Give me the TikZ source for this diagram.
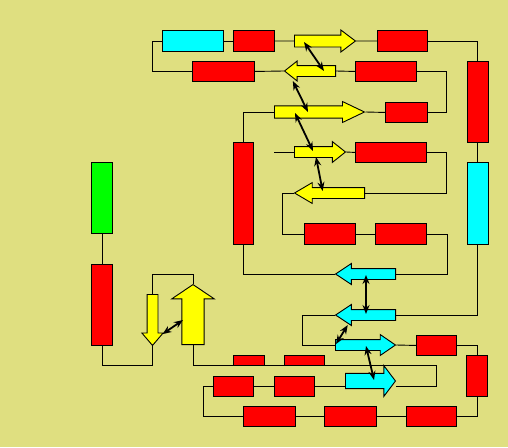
\documentclass[tikz,border=0pt]{standalone}
\usetikzlibrary{shapes.arrows,arrows.meta}
\definecolor{fondo}{RGB}{223,223,128}
\definecolor{rojo}{RGB}{255,0,0}
\definecolor{cian}{RGB}{0,255,255}
\definecolor{amarillo}{RGB}{255,255,0}
\definecolor{verde}{RGB}{0,255,0}
\begin{document}
\begin{tikzpicture}[x=1pt,y=-1pt,line width=0.9pt,
		caja/.style={rectangle, draw, inner sep=0pt, anchor=north west},
		flecha/.style={single arrow, draw, inner xsep=0pt, anchor=tail},
		doble/.style={{Stealth[length=9pt,width=7pt]}-{Stealth[length=9pt,width=7pt]}, line width=1.8pt}]
		
		% Fondo
		\fill[fondo] (0,0) rectangle (508,447);
		
		% Lazo de arriba
		\node[caja, fill=cian, minimum width=61, minimum height=21] (c1) at (162,30) {};
		\node[caja, fill=rojo, minimum width=41, minimum height=21] (r1) at (233,30) {};
		\node[caja, fill=rojo, minimum width=50, minimum height=21] (r2) at (377,30) {};
		\node[caja, fill=rojo, minimum width=62, minimum height=20] (r4) at (192,61) {};
		\node[caja, fill=rojo, minimum width=61, minimum height=20] (r5) at (355,61) {};
		\node[caja, fill=rojo, minimum width=42, minimum height=20] (r6) at (385,102) {};
		\node[caja, fill=rojo, minimum width=20, minimum height=102] (r7) at (233,142) {};
		\node[caja, fill=rojo, minimum width=71, minimum height=20] (r8) at (355,142) {};
		\node[caja, fill=rojo, minimum width=51, minimum height=21] (r9) at (304,223) {};
		\node[caja, fill=rojo, minimum width=51, minimum height=21] (r10) at (375,223) {};
		
		% Columna derecha
		\node[caja, fill=rojo, minimum width=21.5, minimum height=81] (r3) at (466.5,61) {};
		\node[caja, fill=cian, minimum width=21.5, minimum height=82] (c2) at (466.5,162) {};
		
		% Lazo de abajo
		\node[caja, fill=rojo, minimum width=40, minimum height=20] (r12) at (416,335) {};
		\node[caja, fill=rojo, minimum width=21, minimum height=41] (r13) at (466,355) {};
		\node[caja, fill=rojo, minimum width=50, minimum height=20] (r14) at (406,406) {};
		\node[caja, fill=rojo, minimum width=52, minimum height=20] (r15) at (324,406) {};
		\node[caja, fill=rojo, minimum width=52, minimum height=20] (r16) at (243,406) {};
		\node[caja, fill=rojo, minimum width=40, minimum height=20] (r17) at (213,376) {};
		\node[caja, fill=rojo, minimum width=40, minimum height=20] (r18) at (274,376) {};
		\node[caja, fill=rojo, minimum width=31, minimum height=10] (r19) at (233,355) {};
		\node[caja, fill=rojo, minimum width=40, minimum height=10] (r20) at (284,355) {};
		
		% Columna izquierda
		\node[caja, fill=verde, minimum width=21, minimum height=71] (g1) at (91,162) {};
		\node[caja, fill=rojo, minimum width=21, minimum height=81] (r11) at (91,264) {};
		
		% Flechas amarillas
		\node[flecha, fill=amarillo, minimum height=61, inner ysep=5.5, single arrow head extend=5, single arrow tip angle=74] (ya1) at (294,41) {};
		\node[flecha, fill=amarillo, minimum height=51, inner ysep=5, single arrow head extend=4.5, single arrow tip angle=77, shape border rotate=180] (ya2) at (336,71) {};
		\node[flecha, fill=amarillo, minimum height=90, inner ysep=5.7, single arrow head extend=4.3, single arrow tip angle=51] (ya3) at (274,112) {};
		\node[flecha, fill=amarillo, minimum height=51, inner ysep=5, single arrow head extend=5, single arrow tip angle=77] (ya4) at (294,152) {};
		\node[flecha, fill=amarillo, minimum height=70, inner ysep=5, single arrow head extend=5, single arrow tip angle=61, shape border rotate=180] (ya5) at (365,193) {};
		\node[flecha, fill=amarillo, minimum height=51, inner xsep=5, inner ysep=0pt, single arrow head extend=5.2, single arrow tip angle=81, shape border rotate=270] (yd) at (152.5,294) {};
		\node[flecha, fill=amarillo, minimum height=60, inner xsep=10.7, inner ysep=0pt, single arrow head extend=10, single arrow tip angle=112, shape border rotate=90] (yu) at (193,345) {};
		
		% Flechas cian
		\node[flecha, fill=cian, minimum height=60, inner ysep=5, single arrow head extend=5, single arrow tip angle=67, shape border rotate=180] (ca1) at (396,274) {};
		\node[flecha, fill=cian, minimum height=60, inner ysep=5, single arrow head extend=5, single arrow tip angle=67, shape border rotate=180] (ca2) at (396,315) {};
		\node[flecha, fill=cian, minimum height=60, inner ysep=5, single arrow head extend=5, single arrow tip angle=69] (ca3) at (335,345) {};
		\node[flecha, fill=cian, minimum height=50, inner ysep=7.2, single arrow head extend=7.8, single arrow tip angle=106] (ca4) at (345,381) {};
		
		\coordinate (e4) at (274,152);
		
		% Lineas de arriba
		\draw (c1.west) -- ++(-10,0) |- (r4.west);
		\draw (c1.east) -- (r1.west);
		\draw (r1.east) -- (ya1.tail);
		\draw (ya1.tip) -- (r2.west);
		\draw (r2.east) -| (r3.north);
		\draw (r4.east) -- (ya2.tip);
		\draw (ya2.tail) -- (r5.west);
		\draw (r5.east) -- ++(30,0) |- (r6.east);
		\draw (r6.west) -- (ya3.tip);
		\draw (ya3.tail) -| (r7.north);
		\draw (e4) -- (ya4.tail);
		\draw (ya4.tip) -- (r8.west);
		\draw (r8.east) -- ++(20,0) |- (ya5.tail);
		\draw (ya5.tip) -- ++(-11,0) |- (r9.west);
		\draw (r9.east) -- (r10.west);
		\draw (r10.east) -- ++(21,0) |- (ca1.tail);
		\draw (r7.south) |- (ca1.tip);
		
		% Lineas de la derecha
		\draw (r3.south) -- (c2.north);
		\draw (c2.south) |- (ca2.tail);
		\draw (ca2.tip) -- ++(-32,0) |- (ca3.tail);
		\draw (ca3.tip) -- (r12.west);
		\draw (r12.east) -| (r13.north);
		\draw (r13.south) |- (r14.east);
		
		% Lineas de abajo
		\draw (r14.west) -- (r15.east);
		\draw (r15.west) -- (r16.east);
		\draw (r16.west) -- ++(-40,0) |- (r17.west);
		\draw (r17.east) -- (r18.west);
		\draw (r18.east) -- (ca4.tail |- r18.east);
		\draw (yu.tail) -- ++(0,20) -- ++(243,0) |- (ca4.tip |- r18.east);
		
		% Lineas de la izquierda
		\draw (g1.south) -- (r11.north);
		\draw (r11.south) -- ++(0,20) -| (yd.tip);
		\draw (yd.tail) -- ++(0,-20) -| (yu.tip);
		
		% Flechas dobles
		\draw[doble] ([shift={(10,1)}]ya1.tail) -- ([shift={(-12,0)}]ya2.tail);
		\draw[doble] ([shift={(9,10)}]ya2.tip) -- ([shift={(34,0)}]ya3.tail);
		\draw[doble] ([shift={(21,1)}]ya3.tail) -- ([shift={(19,-1)}]ya4.tail);
		\draw[doble] ([shift={(22,5)}]ya4.tail) -- ([shift={(29,-2)}]ya5.tip);
		\draw[doble] ([shift={(10,-12)}]yd.tip) -- ([shift={(-10,-25)}]yu.tail);
		\draw[doble] ([shift={(-30,1)}]ca1.tail) -- ([shift={(-30,-1)}]ca2.tail);
		\draw[doble] ([shift={(13,10)}]ca2.tip) -- ([shift={(1,-1)}]ca3.tail);
		\draw[doble] ([shift={(31,1)}]ca3.tail) -- ([shift={(29,-1)}]ca4.tail);
		
	\end{tikzpicture}
\end{document}
